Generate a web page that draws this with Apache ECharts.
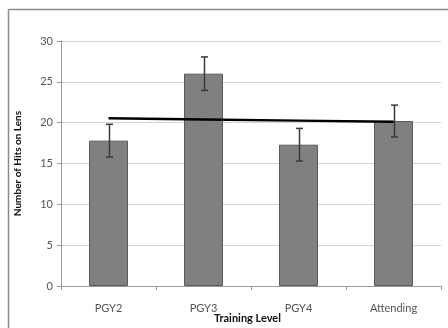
<!DOCTYPE html>
<html><head><meta charset="utf-8">
<script src="https://cdn.jsdelivr.net/npm/echarts@6/dist/echarts.min.js"></script>
<style>html,body{margin:0;padding:0;background:#fff}#c{width:448px;height:328px}</style>
</head><body><div id="c"></div>
<script>
const categories = ['PGY2', 'PGY3', 'PGY4', 'Attending'];
const hits = [17.8, 26.0, 17.3, 20.2];
const errors = [2.0, 2.05, 2.0, 1.95];
const trend = [20.55, 20.4, 20.25, 20.1];
const yTicks = [0, 5, 10, 15, 20, 25, 30];

const chart = echarts.init(document.getElementById('c'));
const font = 'Lato, "Open Sans", sans-serif';
const frame = {stroke: '#8a8a8a', lineWidth: 1.5};
chart.setOption({
  animation: false,
  graphic: [
    {type: 'line', shape: {x1: 8.5, y1: 9.5, x2: 448, y2: 9.5}, style: frame, silent: true},
    {type: 'line', shape: {x1: 8.5, y1: 9.5, x2: 8.5, y2: 328}, style: frame, silent: true},
    {type: 'text', left: 251 - 37, top: 313, silent: true,
     style: {text: 'Training Level', fontFamily: font, fontWeight: 'bold', fontSize: 11, fill: '#111'}}
  ],
  grid: {left: 61, right: 7, top: 41, bottom: 42, outerBoundsMode: 'none', containLabel: false},
  xAxis: {
    type: 'category', data: categories,
    axisLine: {lineStyle: {color: '#9a9a9a'}},
    axisTick: {show: true, length: 4, lineStyle: {color: '#9a9a9a'}},
    axisLabel: {fontFamily: font, fontSize: 11, color: '#555', margin: 17}
  },
  yAxis: {
    type: 'value', min: 0, max: 30, interval: 5,
    name: 'Number of Hits on Lens', nameLocation: 'middle', nameGap: 38, nameMoveOverlap: false,
    nameTextStyle: {fontFamily: font, fontWeight: 'bold', fontSize: 10, color: '#111'},
    axisLine: {show: true, lineStyle: {color: '#9a9a9a'}},
    axisTick: {show: true, length: 4, lineStyle: {color: '#9a9a9a'}},
    axisLabel: {fontFamily: font, fontSize: 11, color: '#555', margin: 8,
      formatter: v => yTicks.includes(v) ? String(v) : ''},
    splitLine: {lineStyle: {color: '#d4d4d4'}}
  },
  series: [
    {
      type: 'bar', data: hits, barWidth: 39,
      itemStyle: {color: '#808080', borderColor: '#5a5a5a', borderWidth: 1}
    },
    {
      type: 'custom',
      data: hits.map((v, i) => [i, v - errors[i], v + errors[i]]),
      renderItem: (params, api) => {
        const lo = api.coord([api.value(0), api.value(1)]);
        const hi = api.coord([api.value(0), api.value(2)]);
        const x = Math.round(lo[0]) + 0.5, w = 3.5;
        const st = {stroke: '#3a3a3a', lineWidth: 1.5};
        return {type: 'group', children: [
          {type: 'line', shape: {x1: x, y1: hi[1], x2: x, y2: lo[1]}, style: st},
          {type: 'line', shape: {x1: x - w, y1: hi[1], x2: x + w, y2: hi[1]}, style: st},
          {type: 'line', shape: {x1: x - w, y1: lo[1], x2: x + w, y2: lo[1]}, style: st}
        ]};
      },
      z: 5
    },
    {
      type: 'line', data: trend, symbol: 'none',
      lineStyle: {color: '#000', width: 2.5}, z: 6
    }
  ]
});
</script></body></html>
